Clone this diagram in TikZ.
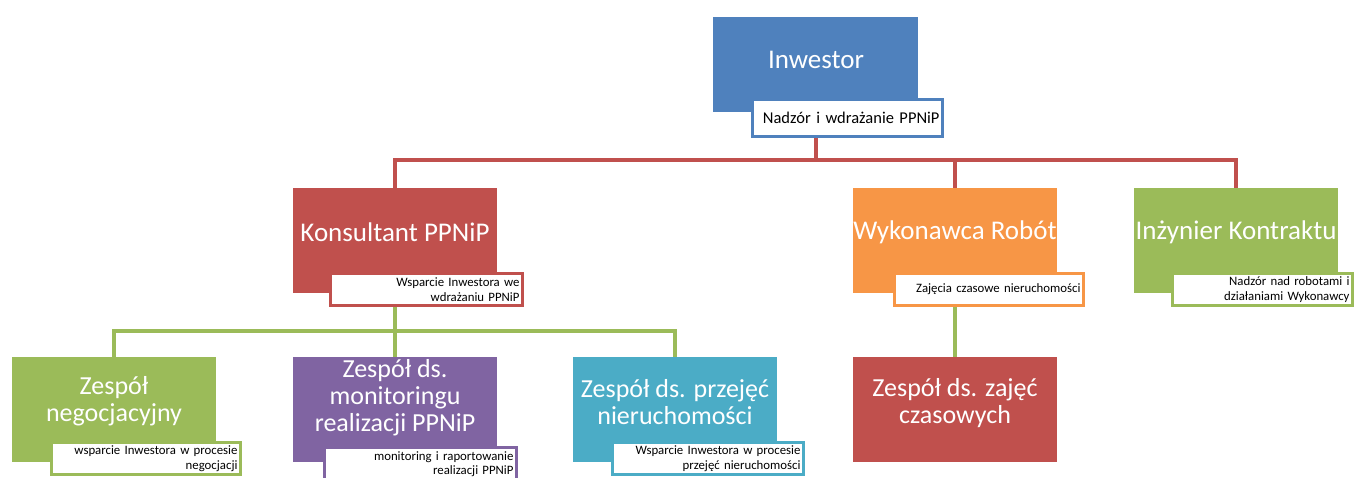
\documentclass[tikz,border=0pt]{standalone}
\usepackage{fontspec}
\setmainfont{Carlito}
\usetikzlibrary{backgrounds}
\definecolor{blueC}{HTML}{4F81BD}
\definecolor{redC}{HTML}{C0504D}
\definecolor{orangeC}{HTML}{F79646}
\definecolor{greenC}{HTML}{9BBB59}
\definecolor{purpleC}{HTML}{8064A2}
\definecolor{aquaC}{HTML}{4BACC6}
\begin{document}
\begin{tikzpicture}[x=1pt,y=-1pt,
		box/.style={fill=#1, anchor=north west, inner sep=0pt, minimum width=204pt, minimum height=105pt},
		boxtext/.style={text=white, align=center, inner sep=0pt, font=\fontsize{27}{28}\selectfont},
		lowtext/.style={text=white, align=center, inner sep=0pt, font=\fontsize{26}{27}\selectfont},
		sub/.style 2 args={draw=#1, line width=3pt, fill=white, anchor=north west, inner xsep=3pt, inner ysep=0pt, text width=#2, align=right, minimum height=32pt, font=\fontsize{12.8}{15}\selectfont},
		redline/.style={draw=redC, line width=4pt},
		greenline/.style={draw=greenC, line width=4pt}]
	\clip (0,0) rectangle (1356,477);
	\useasboundingbox (0,0) rectangle (1356,477);
	\node[box=blueC, minimum width=205pt, minimum height=95pt] (inw) at (713,17) {};
	\node[boxtext] (inwT) at (816,60) {Inwestor};
	\node[sub={blueC}{184pt}, minimum height=37pt, font=\fontsize{16.5}{20}\selectfont] (inwS) at (751,98) {Nadzór i wdrażanie PPNiP};
	\node[box=redC] (kons) at (293,188) {};
	\node[boxtext] (konsT) at (395,232) {Konsultant PPNiP};
	\node[sub={redC}{186pt}] (konsS) at (329,272) {Wsparcie Inwestora we\\wdrażaniu PPNiP};
	\node[box=orangeC] (wyk) at (853,188) {};
	\node[boxtext] (wykT) at (955,232) {Wykonawca Robót};
	\node[sub={orangeC}{183pt}] (wykS) at (893,272) {Zajęcia czasowe nieruchomości};
	\node[box=greenC] (inz) at (1134,188) {};
	\node[boxtext] (inzT) at (1236,232) {Inżynier Kontraktu};
	\node[sub={greenC}{174pt}] (inzS) at (1171,272) {Nadzór nad robotami i\\działaniami Wykonawcy};
	\node[box=greenC] (neg) at (12,357) {};
	\node[lowtext] (negT) at (114,401) {Zespół\\negocjacyjny};
	\node[sub={greenC}{183pt}] (negS) at (50,441) {wsparcie Inwestora w procesie\\negocjacji};
	\node[box=purpleC] (mon) at (293,357) {};
	\node[lowtext] (monT) at (395,398) {Zespół ds.\\monitoringu\\realizacji PPNiP};
	\node[sub={purpleC}{186pt}, minimum height=34pt, font=\fontsize{12.8}{14}\selectfont] (monS) at (323,446) {monitoring i raportowanie\\realizacji PPNiP};
	\node[box=aquaC] (prz) at (573,357) {};
	\node[lowtext] (przT) at (675,402) {Zespół ds. przejęć\\nieruchomości};
	\node[sub={aquaC}{185pt}] (przS) at (611,441) {Wsparcie Inwestora w procesie\\przejęć nieruchomości};
	\node[box=redC] (zaj) at (853,357) {};
	\node[lowtext] (zajT) at (955,403) {Zespół ds. zajęć\\czasowych};
	\coordinate (barA) at ([yshift=-48pt]inw.south);
	\coordinate (barB) at ([yshift=-38pt]kons.south);
	\begin{scope}[on background layer]
		\draw[redline] (inw.south) -- (barA) -| (kons.north);
		\draw[redline] (barA) -| (wyk.north);
		\draw[redline] (barA) -| (inz.north);
		\draw[greenline] (kons.south) -- (barB) -| (neg.north);
		\draw[greenline] (barB) -- (mon.north);
		\draw[greenline] (barB) -| (prz.north);
		\draw[greenline] (wyk.south) -- (zaj.north);
	\end{scope}
\end{tikzpicture}
\end{document}
